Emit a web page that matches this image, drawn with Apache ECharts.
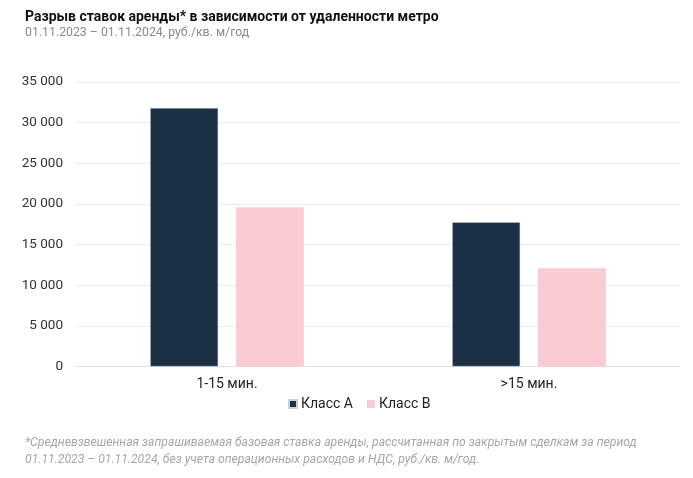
<!doctype html>
<html>
<head>
<meta charset="UTF-8">
<title></title>
<script src="https://cdn.jsdelivr.net/npm/echarts@6/dist/echarts.min.js"></script>
<style>
	html, body { margin: 0; padding: 0; background: #fff; }
	#chart { width: 693px; height: 478px; }
</style>
</head>
<body>
<div id="chart"></div>
<script type="text/javascript">
	var categories = ['1-15 мин.', '>15 мин.'];
	var classA = [31800, 17750];
	var classB = [19600, 12100];
	var seriesNames = ['Класс А', 'Класс В'];
	var yTicks = { min: 0, max: 35000, interval: 5000 };

	function fmt(v) {
		return String(v).replace(/\B(?=(\d{3})+(?!\d))/g, ' ');
	}

	var font = 'Roboto';
	var option = {
		animation: false,
		textStyle: { fontFamily: font },
		title: [{
			text: 'Разрыв ставок аренды* в зависимости от удаленности метро',
			left: 20, top: 5,
			textStyle: { fontSize: 14, fontWeight: 'bold', color: '#111', fontFamily: font }
		}, {
			text: '01.11.2023 – 01.11.2024, руб./кв. м/год',
			left: 20, top: 22,
			textStyle: { fontSize: 12.3, fontWeight: 'normal', color: '#8a8a8a', fontFamily: font }
		}, {
			text: '*Средневзвешенная запрашиваемая базовая ставка аренды, рассчитанная по закрытым сделкам за период\n01.11.2023 – 01.11.2024, без учета операционных расходов и НДС, руб./кв. м/год.',
			left: 20, top: 429,
			textStyle: { fontSize: 12.2, fontWeight: 'normal', fontStyle: 'italic', color: '#a6a6a6', lineHeight: 17, fontFamily: font }
		}],
		legend: {
			data: seriesNames,
			left: 283, top: 392,
			itemWidth: 8, itemHeight: 8, itemGap: 14,
			icon: 'rect',
			textStyle: { fontSize: 14, color: '#222', fontFamily: font, padding: [0, 0, 0, -1] }
		},
		grid: { left: 76, right: 13, top: 82, bottom: 111.5 },
		xAxis: {
			type: 'category',
			data: categories,
			axisTick: { show: false },
			axisLine: { lineStyle: { color: '#e3e3e3' } },
			axisLabel: { fontSize: 14, color: '#222', margin: 11 }
		},
		yAxis: {
			type: 'value',
			min: yTicks.min, max: yTicks.max, interval: yTicks.interval,
			splitLine: { lineStyle: { color: '#ececec' } },
			axisLabel: { fontSize: 13.5, color: '#333', margin: 13, formatter: fmt }
		},
		series: [{
			name: seriesNames[0],
			type: 'bar',
			data: classA,
			barWidth: 68,
			barGap: '26%',
			itemStyle: { color: '#1b2f45', borderColor: '#c9d1db', borderWidth: 0.5 }
		}, {
			name: seriesNames[1],
			type: 'bar',
			data: classB,
			barWidth: 68,
			itemStyle: { color: '#f9cbd3' }
		}]
	};
	var myChart = echarts.init(document.getElementById('chart'));
	myChart.setOption(option);
</script>
</body>
</html>
